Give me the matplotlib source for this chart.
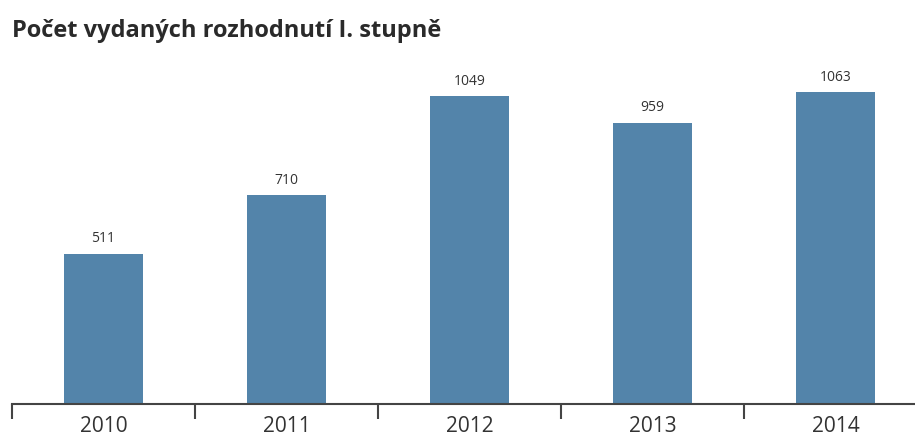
import numpy as np
import matplotlib
matplotlib.use("Agg")
import matplotlib.pyplot as plt

plt.rcParams['font.family'] = ['Open Sans', 'DejaVu Sans']

# données
roky = ['2010', '2011', '2012', '2013', '2014']
pocet = [511, 710, 1049, 959, 1063]

barva = '#5384aa'

W, H = 915, 437
fig = plt.figure(figsize=(W/100, H/100), dpi=100)

# axe: de x=12 px a droite, base a y=403.5 px
x0, x1 = 12, 915
y0, y1 = 403.5, 60
ax = fig.add_axes([x0/W, 1 - y0/H, (x1 - x0)/W, (y0 - y1)/H])

x = np.arange(len(roky))
ax.bar(x, pocet, width=0.43, color=barva, zorder=2)

for xi, v in zip(x, pocet):
    ax.text(xi, v + 25, str(v), ha='center', va='bottom', fontsize=10, color='#333333')

ax.set_xlim(-0.5, -0.5 + (x1 - x0)/183)
ax.set_ylim(0, (y0 - y1)/0.293)

for s in ['top', 'right', 'left']:
    ax.spines[s].set_visible(False)
ax.spines['bottom'].set_color('#444444')
ax.spines['bottom'].set_linewidth(1.5)
ax.set_yticks([])

ax.set_xticks(np.arange(-0.5, 4.0, 1.0))
ax.set_xticklabels([])
ax.tick_params(axis='x', length=11, width=1.5, color='#444444')
for xi, r in zip(x, roky):
    ax.annotate(r, (xi, 0), xytext=(0, -9), textcoords='offset points',
                ha='center', va='top', fontsize=15, color='#333333')

fig.text(12/W, 1 - 31/H, 'Počet vydaných rozhodnutí I. stupně', fontsize=17,
         fontweight='bold', color='#2a2a2a', ha='left', va='center')

fig.savefig('out.png', dpi=100)
